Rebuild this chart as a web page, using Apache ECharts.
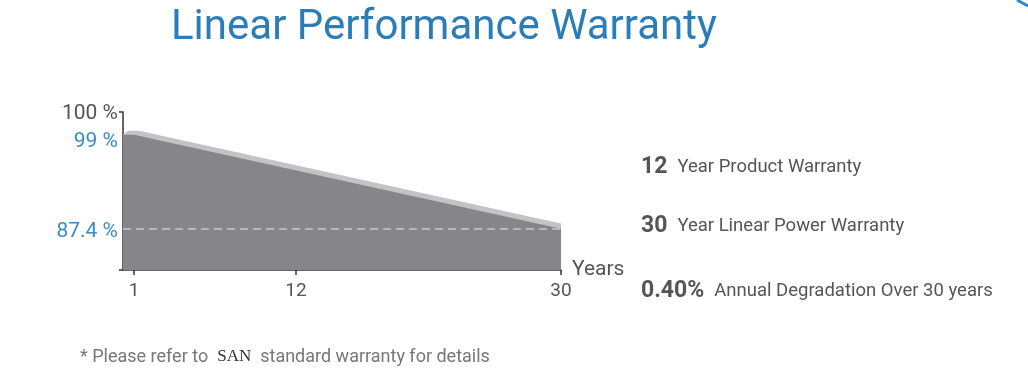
<!DOCTYPE html>
<html><head><meta charset="utf-8">
<script src="https://cdn.jsdelivr.net/npm/echarts@6/dist/echarts.min.js"></script>
<style>html,body{margin:0;padding:0;background:#fff}#c{width:1028px;height:380px}</style>
</head><body><div id="c"></div>
<script>
// ---- data ----
const chartTitle = 'Linear Performance Warranty';
const curveYears = [0.25, 1, 30];        // years along the warranty curve
const curvePower = [99, 99, 87.4];       // guaranteed power (%)
const yLabelValues = [87.4, 99];
const yLabelTexts = ['87.4 %', '99 %'];
const yTopLabel = '100 %';
const xLabelValues = [1, 12, 30];
const xAxisName = 'Years';
const highlightNums = ['12', '30', '0.40%'];
const highlightTexts = ['Year Product Warranty', 'Year Linear Power Warranty', 'Annual Degradation Over 30 years'];
const footnoteParts = ['* Please refer to', 'SAN', 'standard warranty for details'];

// ---- axis ranges ----
const xMin = 0.25, xMax = 30;
const yMin = 82.3, yMax = 101.8;

const FONT = 'Roboto, "DejaVu Sans", sans-serif';
const mainData = curveYears.map((x, i) => [x, curvePower[i]]);
// bevel (3D edge) = same curve shifted slightly up/right in value space
const bdx = 0.34, bdy = 0.5;
const bevelData = [[curveYears[0], curvePower[0]], [curveYears[0] + bdx, curvePower[0] + bdy]]
  .concat(mainData.slice(1).map(p => [p[0] + bdx, p[1] + bdy]));

const chart = echarts.init(document.getElementById('c'), null, {renderer: 'canvas'});

const yAllLabelVals = yLabelValues.concat([yMax]);
const yLabelFor = v => {
  v = Number(v);
  if (v === yMax) return '{t|' + yTopLabel + '}';
  const i = yLabelValues.indexOf(v);
  return i >= 0 ? '{v' + i + '|' + yLabelTexts[i] + '}' : '';
};

const rightItems = [167, 226, 291];

chart.setOption({
  animation: false,
  backgroundColor: '#fff',
  grid: {left: 123, top: 112, width: 438, height: 158, containLabel: false, outerBoundsMode: 'none'},
  xAxis: {
    type: 'value', min: xMin, max: xMax,
    name: xAxisName, nameLocation: 'end', nameGap: 11,
    nameTextStyle: {fontFamily: FONT, fontSize: 21, color: '#555', align: 'left', verticalAlign: 'middle'},
    axisLine: {show: true, lineStyle: {color: '#333', width: 1.5}},
    axisTick: {show: true, customValues: xLabelValues, length: 5, lineStyle: {color: '#333', width: 1.5}},
    axisLabel: {customValues: xLabelValues, fontFamily: FONT, fontSize: 19, color: '#555', margin: 12},
    splitLine: {show: false}
  },
  yAxis: {
    type: 'value', min: yMin, max: yMax,
    axisLine: {show: true, lineStyle: {color: '#333', width: 1.5}},
    axisTick: {show: true, customValues: [yMin, yMax], length: 4, lineStyle: {color: '#333', width: 1.5}},
    axisLabel: {
      customValues: yAllLabelVals, margin: 5,
      formatter: v => yLabelFor(v),
      rich: {
        t: {fontFamily: FONT, fontSize: 21, color: '#555', padding: [4, 0, 0, 0]},
        v0: {fontFamily: FONT, fontSize: 21, color: '#3a8cc0', padding: [7, 0, 0, 0]},
        v1: {fontFamily: FONT, fontSize: 21, color: '#3a8cc0', padding: [14, 0, 0, 0]}
      }
    },
    splitLine: {show: false}
  },
  series: [
    {
      type: 'line', data: bevelData, clip: false, showSymbol: false, symbol: 'none',
      lineStyle: {width: 0}, areaStyle: {color: '#c3c3c5', opacity: 1, origin: 'start'}, z: 1, silent: true
    },
    {
      type: 'line', data: mainData, clip: false, showSymbol: false, symbol: 'none',
      lineStyle: {width: 0}, areaStyle: {color: '#86868a', opacity: 1, origin: 'start'}, z: 2, silent: true,
      markLine: {
        silent: true, symbol: 'none', label: {show: false},
        lineStyle: {type: [8, 5], color: '#c9c9c9', width: 1.5},
        data: [{yAxis: yLabelValues[0]}]
      }
    }
  ],
  graphic: [
    {type: 'text', x: 171, y: 28, style: {text: chartTitle, font: '42px ' + FONT, fill: '#2b7db7', verticalAlign: 'middle'}},
    {type: 'line', shape: {x1: 1017, y1: 0, x2: 1028, y2: 6}, style: {stroke: '#2b8ccc', lineWidth: 3}},
    ...highlightNums.map((n, i) => ({
      type: 'text', x: 641, y: rightItems[i],
      style: {
        text: '{b|' + n + '}{r|' + highlightTexts[i] + '}',
        verticalAlign: 'middle', align: 'left',
        rich: {
          b: {fontFamily: FONT, fontSize: 23, fontWeight: 'bold', fill: '#555', padding: [0, 10, 0, 0]},
          r: {fontFamily: FONT, fontSize: 18.5, fill: '#555'}
        }
      }
    })),
    {
      type: 'text', x: 80, y: 357,
      style: {
        text: '{a|' + footnoteParts[0] + '}{s|' + footnoteParts[1] + '}{a|' + footnoteParts[2] + '}',
        verticalAlign: 'middle', align: 'left',
        rich: {
          a: {fontFamily: FONT, fontSize: 18, fill: '#777'},
          s: {fontFamily: '"Liberation Serif", serif', fontSize: 17, fill: '#333', padding: [0, 9, 0, 9]}
        }
      }
    }
  ]
});
</script></body></html>
